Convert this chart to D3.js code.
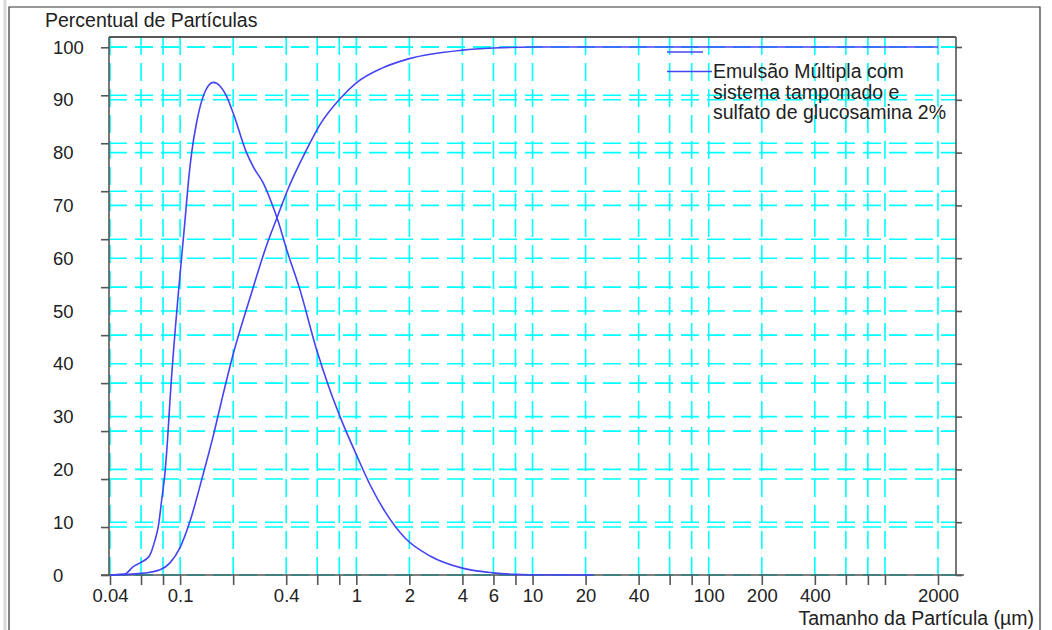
<!DOCTYPE html>
<html lang="pt">
<head>
<meta charset="UTF-8">
<title>Percentual de Partículas</title>
<style>
    body { margin: 0; background: #fff; }
    svg text { font-family: "Liberation Sans", Arial, sans-serif; fill: #222; }
    .grid line { stroke: #00ffff; stroke-width: 1.6px; stroke-dasharray: 18,8; }
    .axis path, .axis line { stroke: #555; stroke-width: 1.6px; }
    .axis text { font-size: 18.5px; fill: #222; }
    .curve { fill: none; stroke: #4444f4; stroke-width: 1.6px; }
    .big { font-size: 19.5px; }
</style>
</head>
<body>
<svg id="chart" width="1052" height="630"></svg>
<script src="https://cdnjs.cloudflare.com/ajax/libs/d3/7.8.5/d3.min.js"></script>
<script>
// distribution curve (peaked one)
const sizesA = [0.04, 0.0487, 0.0542, 0.0592, 0.0669, 0.072, 0.0752, 0.0786, 0.082, 0.0846, 0.0876,
    0.1066, 0.1123, 0.1164, 0.1242, 0.1285, 0.1402, 0.1543, 0.1684, 0.1838, 0.2004, 0.2387, 0.2602,
    0.2965, 0.331, 0.3608, 0.4026, 0.479, 0.5957, 0.7, 0.808, 1.0, 1.2, 1.455, 1.89, 2.62, 4, 6, 8, 10, 16, 22];
const valuesA = [0, 0.2, 1.6, 2.3, 3.6, 6.6, 9.2, 14.2, 19.3, 25, 33.1,
    67.2, 75.6, 80.1, 85.8, 88.1, 91.9, 93.3, 92.6, 90.6, 87.4, 79.9, 77.3,
    74.2, 70.4, 66.9, 61.6, 54, 42.6, 35.5, 30, 22.8, 17, 12, 7, 3.6, 1.3, 0.4, 0.12, 0.05, 0, 0];

// cumulative curve
const sizesB = [0.04, 0.06, 0.0769, 0.0876, 0.0998, 0.1138, 0.1354, 0.1543, 0.1722, 0.2, 0.2493, 0.31,
    0.356, 0.4026, 0.523, 0.622, 0.808, 1.0, 1.4, 2, 4, 6, 10, 2000];
const valuesB = [0, 0.3, 1.0, 2.3, 5.2, 10.2, 19.2, 26.4, 33.1, 41.8, 52.5, 62.5,
    67.8, 72.5, 80.6, 85.3, 90.2, 93.2, 96, 97.8, 99.4, 99.8, 100, 100];

const xTicks = [0.04, 0.06, 0.08, 0.1, 0.2, 0.4, 0.6, 0.8, 1, 2, 4, 6, 8, 10, 20, 40, 60, 80,
    100, 200, 400, 600, 800, 1000, 2000];
const xLabels = [0.04, 0.1, 0.4, 1, 2, 4, 6, 10, 20, 40, 100, 200, 400, 2000];
const yLabels = [0, 10, 20, 30, 40, 50, 60, 70, 80, 90, 100];
const leftDivisions = 11;

const legendLines = ["Emulsão Múltipla com", "sistema tamponado e", "sulfato de glucosamina 2%"];

const svg = d3.select("#chart");
const plot = { left: 109, right: 956, top: 37, bottom: 575 };

const x = d3.scaleLog().domain([0.04, 2000]).range([110, 938]);
const y = d3.scaleLinear().domain([0, 100]).range([575, 47]);
const yTick = d3.scaleLinear().domain([0, leftDivisions]).range([575, 47.3]);

// outer frame
svg.append("line").attr("x1", 5).attr("x2", 5).attr("y1", 0).attr("y2", 630)
    .attr("stroke", "#d8d8d8").attr("stroke-width", 3);
svg.append("path").attr("d", "M9,630V7H1040V630")
    .attr("fill", "none").attr("stroke", "#333").attr("stroke-width", 1.2);

// grid
const grid = svg.append("g").attr("class", "grid");
grid.selectAll(".v").data(xTicks).enter().append("line")
    .attr("x1", d => x(d)).attr("x2", d => x(d))
    .attr("y1", plot.top).attr("y2", plot.bottom);
grid.selectAll(".h1").data(yLabels).enter().append("line")
    .attr("x1", plot.left).attr("x2", plot.right)
    .attr("y1", d => y(d)).attr("y2", d => y(d));
grid.selectAll(".h2").data(d3.range(leftDivisions + 1)).enter().append("line")
    .attr("x1", plot.left).attr("x2", plot.right)
    .attr("y1", d => yTick(d)).attr("y2", d => yTick(d));

// frame of the plot
svg.append("line").attr("x1", plot.left).attr("x2", plot.right)
    .attr("y1", plot.top).attr("y2", plot.top).attr("stroke", "#222").attr("stroke-width", 1.4);
svg.append("line").attr("x1", plot.right).attr("x2", plot.right)
    .attr("y1", plot.top).attr("y2", plot.bottom).attr("stroke", "#555").attr("stroke-width", 1.6);

// axes
const xAxis = d3.axisBottom(x).tickValues(xTicks).tickSize(10).tickSizeOuter(0)
    .tickFormat(d => xLabels.includes(d) ? String(d) : "");
const gx = svg.append("g").attr("class", "axis").attr("transform", `translate(0,${plot.bottom})`).call(xAxis);
gx.select(".domain").attr("d", `M101,0H964`);
gx.selectAll("text").attr("y", 14);

const gl = svg.append("g").attr("class", "axis").attr("transform", `translate(${plot.left},0)`)
    .call(d3.axisLeft(yTick).tickValues(d3.range(leftDivisions + 1)).tickSize(8).tickFormat(""));
gl.select(".domain").attr("d", `M0,${plot.top}V${plot.bottom}`);

const gr = svg.append("g").attr("class", "axis").attr("transform", `translate(${plot.right},0)`)
    .call(d3.axisRight(y).tickValues(yLabels).tickSize(6).tickFormat(""));
gr.select(".domain").remove();

svg.append("g").selectAll("text").data(yLabels).enter().append("text")
    .attr("x", 53).attr("y", d => y(d)).attr("dy", "0.36em")
    .style("font-size", "18.5px").text(d => d);

// curves
const line = d3.line().x(d => x(d[0])).y(d => y(d[1])).curve(d3.curveMonotoneX);
svg.append("path").attr("class", "curve").attr("d", line(d3.zip(sizesA, valuesA)));
svg.append("path").attr("class", "curve").attr("d", line(d3.zip(sizesB, valuesB)));

// titles
svg.append("text").attr("class", "big").attr("x", 45).attr("y", 27).text("Percentual de Partículas");
svg.append("text").attr("class", "big").attr("x", 1034).attr("y", 625).attr("text-anchor", "end")
    .text("Tamanho da Partícula (µm)");

// legend
const legend = svg.append("g");
legend.append("line").attr("x1", 667).attr("x2", 703).attr("y1", 52).attr("y2", 52)
    .attr("stroke", "#4444f4").attr("stroke-width", 1.6);
legend.append("line").attr("x1", 667).attr("x2", 712).attr("y1", 71.5).attr("y2", 71.5)
    .attr("stroke", "#4444f4").attr("stroke-width", 1.6);
legend.selectAll("text").data(legendLines).enter().append("text")
    .attr("class", "big")
    .attr("x", 713).attr("y", (d, i) => 78 + i * 20.7)
    .text(d => d);
</script>
</body>
</html>
